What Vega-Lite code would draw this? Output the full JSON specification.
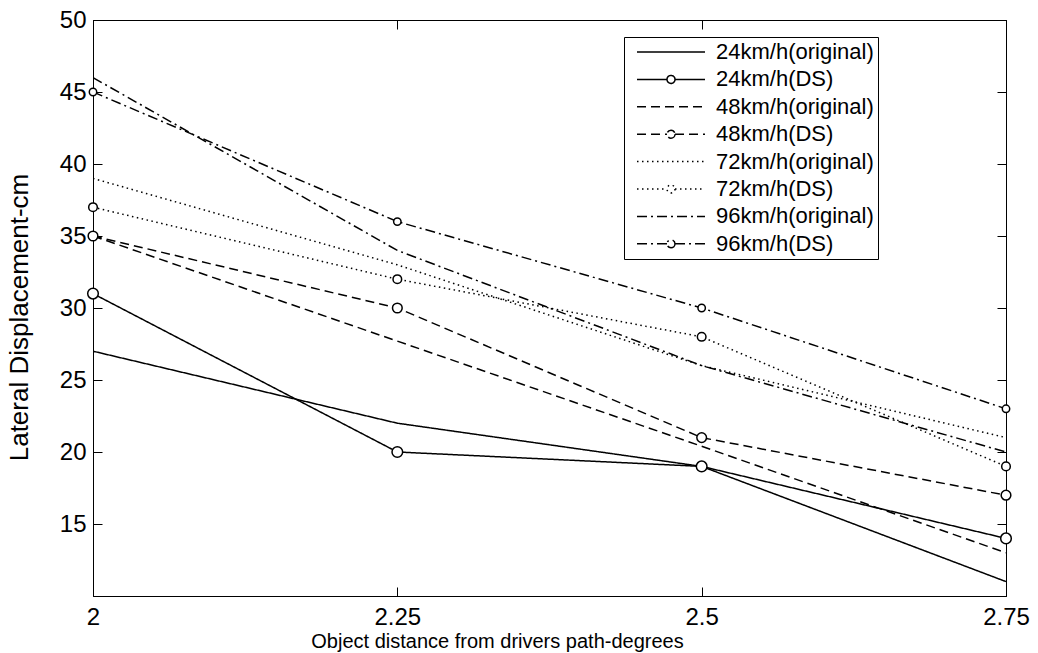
{
  "$schema": "https://vega.github.io/schema/vega-lite/v6.json",
  "width": 913,
  "height": 576,
  "autosize": {"type": "none"},
  "padding": {"left": 93, "top": 20, "right": 32, "bottom": 57},
  "background": "white",
  "config": {
    "font": "Liberation Sans",
    "view": {"stroke": "black", "strokeWidth": 1},
    "axis": {"grid": false, "domainColor": "black", "tickColor": "black", "labelColor": "black", "titleColor": "black", "titleFontWeight": "normal", "labelFlush": false, "labelOverlap": false, "labelBound": false}
  },
  "data": {
    "values": [
      {"series": "24km/h(original)", "x": 2, "y": 27},
      {"series": "24km/h(original)", "x": 2.25, "y": 22},
      {"series": "24km/h(original)", "x": 2.5, "y": 19},
      {"series": "24km/h(original)", "x": 2.75, "y": 11},
      {"series": "24km/h(DS)", "x": 2, "y": 31},
      {"series": "24km/h(DS)", "x": 2.25, "y": 20},
      {"series": "24km/h(DS)", "x": 2.5, "y": 19},
      {"series": "24km/h(DS)", "x": 2.75, "y": 14},
      {"series": "48km/h(original)", "x": 2, "y": 35},
      {"series": "48km/h(original)", "x": 2.25, "y": 27.7},
      {"series": "48km/h(original)", "x": 2.5, "y": 20.4},
      {"series": "48km/h(original)", "x": 2.75, "y": 13},
      {"series": "48km/h(DS)", "x": 2, "y": 35},
      {"series": "48km/h(DS)", "x": 2.25, "y": 30},
      {"series": "48km/h(DS)", "x": 2.5, "y": 21},
      {"series": "48km/h(DS)", "x": 2.75, "y": 17},
      {"series": "72km/h(original)", "x": 2, "y": 39},
      {"series": "72km/h(original)", "x": 2.25, "y": 33},
      {"series": "72km/h(original)", "x": 2.5, "y": 26},
      {"series": "72km/h(original)", "x": 2.75, "y": 21},
      {"series": "72km/h(DS)", "x": 2, "y": 37},
      {"series": "72km/h(DS)", "x": 2.25, "y": 32},
      {"series": "72km/h(DS)", "x": 2.5, "y": 28},
      {"series": "72km/h(DS)", "x": 2.75, "y": 19},
      {"series": "96km/h(original)", "x": 2, "y": 46},
      {"series": "96km/h(original)", "x": 2.25, "y": 34},
      {"series": "96km/h(original)", "x": 2.5, "y": 26},
      {"series": "96km/h(original)", "x": 2.75, "y": 20},
      {"series": "96km/h(DS)", "x": 2, "y": 45},
      {"series": "96km/h(DS)", "x": 2.25, "y": 36},
      {"series": "96km/h(DS)", "x": 2.5, "y": 30},
      {"series": "96km/h(DS)", "x": 2.75, "y": 23}
    ]
  },
  "resolve": {"axis": {"x": "independent", "y": "independent"}},
  "layer": [
    {
      "mark": {"type": "line", "color": "black", "strokeWidth": 1.5, "clip": true},
      "encoding": {
        "x": {"field": "x", "type": "quantitative",
          "scale": {"domain": [2, 2.75], "nice": false, "zero": false},
          "axis": {"orient": "bottom", "values": [2, 2.25, 2.5, 2.75], "format": ".3~g", "tickSize": -9, "labelPadding": 18, "labelFontSize": 24, "title": "Object distance from drivers path-degrees", "titleFontSize": 20, "titlePadding": 2, "titleX": 404, "titleAlign": "center"}},
        "y": {"field": "y", "type": "quantitative",
          "scale": {"domain": [10, 50], "nice": false, "zero": false},
          "axis": {"orient": "left", "values": [15, 20, 25, 30, 35, 40, 45, 50], "tickSize": -9, "labelPadding": 16, "labelFontSize": 24, "title": "Lateral Displacement-cm", "titleFontSize": 26, "titlePadding": 27, "titleY": 297}},
        "strokeDash": {"field": "series", "type": "nominal",
          "scale": {
            "domain": ["24km/h(original)", "24km/h(DS)", "48km/h(original)", "48km/h(DS)", "72km/h(original)", "72km/h(DS)", "96km/h(original)", "96km/h(DS)"],
            "range": [[1, 0], [1, 0], [9, 5], [9, 5], [1.5, 3.5], [1.5, 3.5], [10, 4, 2, 4], [10, 4, 2, 4]]
          },
          "legend": {
            "orient": "none", "legendX": 531, "legendY": 17,
            "title": null,
            "strokeColor": "black", "fillColor": "white", "padding": 4,
            "symbolSize": 100, "symbolOffset": 3, "symbolStrokeWidth": 1.5, "symbolStrokeColor": "black",
            "labelOffset": 63, "labelFontSize": 22, "labelColor": "black", "rowPadding": 5.4,
            "labelExpr": "datum.label + '\u00a0\u00a0\u00a0\u00a0\u00a0\u00a0\u00a0\u00a0\u00a0\u00a0\u00a0\u00a0\u00a0\u00a0\u00a0\u00a0\u00a0\u00a0\u00a0\u00a0'",
            "labelLimit": 600,
            "encode": {
              "symbols": {
                "update": {
                  "shape": {"signal": "indexof(datum.value, 'DS') >= 0 ? 'M-1,0H5M6.6,0H12.6M6.6,0A0.8,0.8 0 1 1 5,0A0.8,0.8 0 1 1 6.6,0' : 'M-1,0H12.6'"},
                  "stroke": {"value": "black"},
                  "fill": {"value": "white"}
                }
              }
            }
          }
        }
      }
    },
    {
      "transform": [{"filter": "indexof(datum.series, 'DS') >= 0"}],
      "mark": {"type": "point", "shape": "circle", "filled": true, "fill": "white", "stroke": "black", "strokeWidth": 1.5, "opacity": 1},
      "encoding": {
        "x": {"field": "x", "type": "quantitative",
          "axis": {"orient": "top", "values": [2, 2.25, 2.5, 2.75], "labels": false, "tickSize": -9, "title": null}},
        "y": {"field": "y", "type": "quantitative",
          "axis": {"orient": "right", "values": [15, 20, 25, 30, 35, 40, 45, 50], "labels": false, "tickSize": -9, "title": null}},
        "size": {"field": "series", "type": "nominal",
          "scale": {"domain": ["24km/h(DS)", "48km/h(DS)", "72km/h(DS)", "96km/h(DS)"], "range": [113, 55, 55, 55]},
          "legend": null}
      }
    }
  ]
}
